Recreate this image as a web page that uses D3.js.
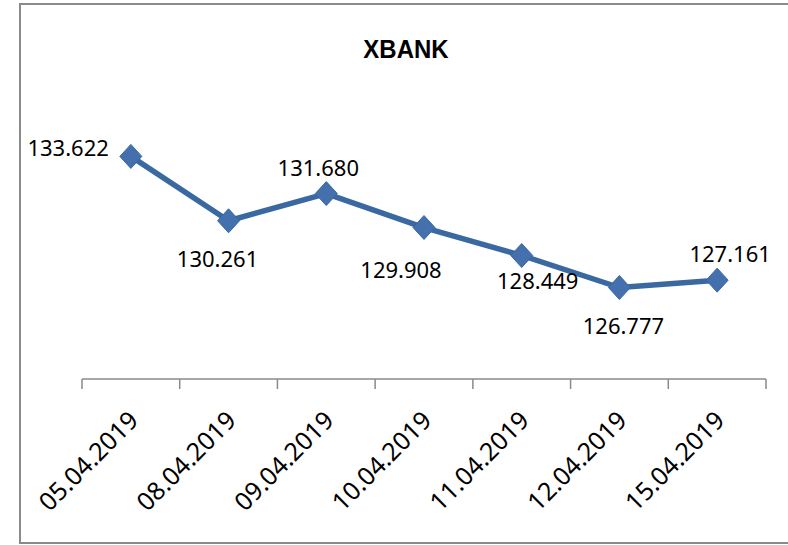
<!DOCTYPE html>
<html>
<head>
<meta charset="utf-8">
<script src="https://cdn.jsdelivr.net/npm/d3@7"></script>
<style>
  html, body { margin: 0; padding: 0; background: #fff; }
  svg { display: block; }
</style>
</head>
<body>
<svg id="chart" width="788" height="545"></svg>
<script>
const title = "XBANK";
const categories = ["05.04.2019", "08.04.2019", "09.04.2019", "10.04.2019", "11.04.2019", "12.04.2019", "15.04.2019"];
const values = [133.622, 130.261, 131.680, 129.908, 128.449, 126.777, 127.161];
const valueLabels = ["133.622", "130.261", "131.680", "129.908", "128.449", "126.777", "127.161"];
const yDomain = [122, 135];

// label placement offsets relative to each point (style, not data)
const labelOffsets = [
  { dx: -22, dy: 0, anchor: "end" },
  { dx: -11, dy: 46, anchor: "middle" },
  { dx: -8, dy: -18, anchor: "middle" },
  { dx: -23, dy: 50, anchor: "middle" },
  { dx: 16, dy: 34, anchor: "middle" },
  { dx: 4, dy: 46, anchor: "middle" },
  { dx: 13, dy: -18, anchor: "middle" }
];

const svg = d3.select("#chart");
const font = "'Noto Sans', 'DejaVu Sans', sans-serif";

// outer frame
svg.append("rect")
  .attr("x", 20).attr("y", 4)
  .attr("width", 800).attr("height", 539)
  .attr("fill", "#fff")
  .attr("stroke", "#8a8a8a")
  .attr("stroke-width", 2);

const plotLeft = 82, plotRight = 766, plotTop = 130, plotBottom = 379;

const x = d3.scaleBand().domain(categories).range([plotLeft, plotRight]).paddingInner(0).paddingOuter(0);
const y = d3.scaleLinear().domain(yDomain).range([plotBottom, plotTop]);
const cx = d => x(d) + x.bandwidth() / 2;

// title
svg.append("text")
  .attr("transform", "translate(406,58) scale(1,1.08)")
  .attr("text-anchor", "middle")
  .attr("font-family", "'Liberation Sans', Arial, sans-serif")
  .attr("font-weight", "bold")
  .attr("font-size", 24)
  .attr("fill", "#000")
  .text(title);

// x axis
const axis = d3.axisBottom(x).tickSize(0).tickFormat("");
const gAxis = svg.append("g").attr("transform", `translate(0,${plotBottom})`).call(axis);
gAxis.select(".domain").attr("stroke", "#8a8a8a").attr("stroke-width", 1.5).attr("d", `M${plotLeft},0H${plotRight}`);
const boundaries = categories.map(c => x(c)).concat([x(categories[categories.length - 1]) + x.bandwidth()]);
gAxis.selectAll(".bound").data(boundaries).enter().append("line")
  .attr("x1", d => d).attr("x2", d => d)
  .attr("y1", 0).attr("y2", 10)
  .attr("stroke", "#8a8a8a").attr("stroke-width", 1.5);

// rotated category labels
svg.append("g").selectAll("text").data(categories).enter().append("text")
  .attr("transform", d => `translate(${cx(d) + 9},${plotBottom + 43}) rotate(-45)`)
  .attr("text-anchor", "end")
  .attr("font-family", font)
  .attr("font-size", 25)
  .attr("fill", "#000")
  .text(d => d);

// line
const line = d3.line().x((d, i) => cx(categories[i])).y(d => y(d));
svg.append("path")
  .datum(values)
  .attr("d", line)
  .attr("fill", "none")
  .attr("stroke", "#3a69a2")
  .attr("stroke-width", 5.5)
  .attr("stroke-linejoin", "round");

// diamond markers
const diamond = (px, py) => `M${px},${py - 12}L${px + 11},${py}L${px},${py + 12}L${px - 11},${py}Z`;
svg.append("g").selectAll("path").data(values).enter().append("path")
  .attr("d", (d, i) => diamond(cx(categories[i]), y(d)))
  .attr("fill", "#4471ad")
  .attr("stroke", "#3a679f")
  .attr("stroke-width", 1);

// data labels
svg.append("g").selectAll("text").data(values).enter().append("text")
  .attr("x", (d, i) => cx(categories[i]) + labelOffsets[i].dx)
  .attr("y", (d, i) => y(d) + labelOffsets[i].dy)
  .attr("text-anchor", (d, i) => labelOffsets[i].anchor)
  .attr("font-family", font)
  .attr("font-size", 22)
  .attr("fill", "#000")
  .text((d, i) => valueLabels[i]);
</script>
</body>
</html>
